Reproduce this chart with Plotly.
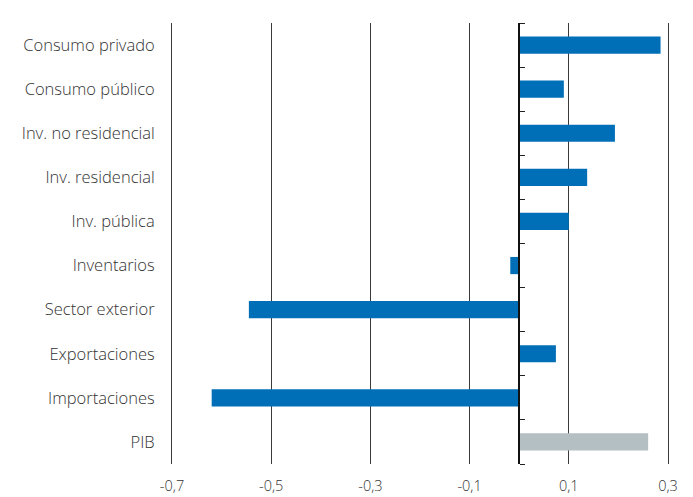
import plotly.graph_objects as go

# Contributions to GDP growth (percentage points)
categories = [
    "Consumo privado",
    "Consumo público",
    "Inv. no residencial",
    "Inv. residencial",
    "Inv. pública",
    "Inventarios",
    "Sector exterior",
    "Exportaciones",
    "Importaciones",
    "PIB",
]
values = [0.285, 0.09, 0.193, 0.137, 0.10, -0.018, -0.545, 0.074, -0.62, 0.26]

x_ticks = [-0.7, -0.5, -0.3, -0.1, 0.1, 0.3]
x_tick_labels = ["-0,7", "-0,5", "-0,3", "-0,1", "0,1", "0,3"]

BLUE = "#006FB7"
GREY = "#B3BFC3"
GRID = "#3a3a3a"
colors = [GREY if c == "PIB" else BLUE for c in categories]

x_min, x_max = -0.7, 0.3

fig = go.Figure()
fig.add_trace(go.Bar(
    x=values,
    y=categories,
    orientation="h",
    marker=dict(color=colors, line=dict(width=0)),
    width=0.39,
    hoverinfo="x+y",
))

# Invisible trace so the zero axis (with its category-boundary ticks) is drawn
fig.add_trace(go.Scatter(
    x=[0], y=[0], yaxis="y2", mode="markers",
    marker=dict(opacity=0), hoverinfo="skip", showlegend=False,
))

n = len(categories)
label_font = dict(family="Open Sans, Segoe UI, sans-serif", size=16.5, color="#333333", weight=300)

fig.update_layout(
    width=693,
    height=497,
    margin=dict(l=172, r=25, t=23, b=33, autoexpand=False),
    plot_bgcolor="white",
    paper_bgcolor="white",
    showlegend=False,
    font=dict(family="Open Sans, Segoe UI, sans-serif", color="#333333"),
    xaxis=dict(
        range=[x_min, x_max],
        tickvals=x_ticks,
        ticktext=x_tick_labels,
        showgrid=True,
        gridcolor=GRID,
        gridwidth=1,
        zeroline=False,
        showline=False,
        ticks="outside",
        ticklen=9,
        tickcolor="rgba(0,0,0,0)",
        tickfont=dict(label_font, size=14.5),
        automargin=False,
    ),
    yaxis=dict(
        type="category",
        categoryorder="array",
        categoryarray=categories,
        range=[n - 0.5, -0.5],
        showgrid=False,
        zeroline=False,
        # left/right frame lines sit on the -0,7 and 0,3 grid positions
        showline=True,
        mirror=True,
        linecolor=GRID,
        linewidth=1,
        ticks="",
        ticklabelstandoff=13,
        tickfont=label_font,
        automargin=False,
    ),
    yaxis2=dict(
        overlaying="y",
        anchor="free",
        position=(0 - x_min) / (x_max - x_min),
        side="right",
        range=[n - 0.5, -0.5],
        tickvals=[i - 0.5 for i in range(n + 1)],
        showticklabels=False,
        ticks="outside",
        ticklen=5,
        tickwidth=1.2,
        tickcolor="#222222",
        showline=True,
        linecolor="#111111",
        linewidth=1.5,
        showgrid=False,
        zeroline=False,
        automargin=False,
    ),
)

fig.write_html("out.html")
